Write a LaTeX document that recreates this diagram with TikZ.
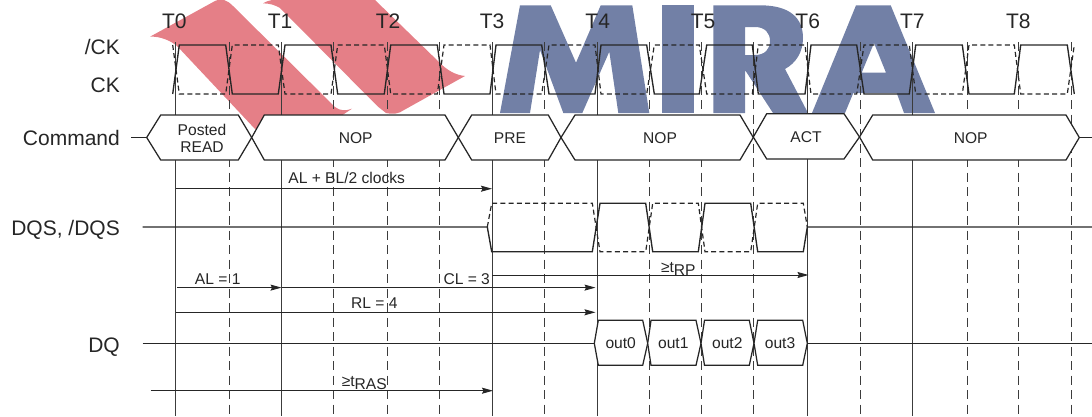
\documentclass[tikz,border=0pt]{standalone}
\usepackage{fontspec}
\setmainfont{Liberation Sans}
\usetikzlibrary{arrows.meta}
\definecolor{logored}{HTML}{E57F87}
\definecolor{logoblue}{HTML}{7280A6}
\definecolor{ink}{HTML}{262626}
\definecolor{gridink}{HTML}{3C3C3C}
\tikzset{
  sig/.style={draw=ink,line width=1.35pt,line join=miter},
  sigdash/.style={draw=ink,line width=1.2pt,dash pattern=on 5pt off 3.2pt},
  hexbox/.style={draw=ink,line width=1.25pt,fill=white},
  solidgrid/.style={draw=gridink,line width=1pt},
  dashgrid/.style={draw=gridink,line width=1pt,dash pattern=on 9pt off 5.5pt},
  span/.style={draw=ink,line width=0.95pt,-{Stealth[length=11pt,width=6pt,inset=1.5pt]}},
  biglab/.style={font=\fontsize{21}{21}\selectfont,text=ink,inner sep=0pt,text height=15pt,text depth=0pt},
  lab/.style={font=\fontsize{15.6}{18}\selectfont,text=ink,inner sep=0pt,text height=11.2pt,text depth=0pt},
  stacklab/.style={font=\fontsize{15.6}{17}\selectfont,text=ink,inner sep=0pt,align=center},
}
\newcommand{\lowered}[1]{\raisebox{-3pt}{#1}}
\begin{document}
\begin{tikzpicture}[x=1pt,y=-1pt]
\useasboundingbox (0,0) rectangle (1092,416);
% logo
\fill[logored] (150,36.7) -- (215,1) .. controls (222,-2) and (227,0) .. (233,6) -- (335,107) .. controls (340,111) and (346,111) .. (352,108.7) -- (338,118) -- (255,129) -- (178,47) .. controls (172,41) and (160,36) .. (150,36.7) -- cycle;
\fill[logored] (263,3.3) .. controls (266,1.5) and (270,0) .. (274,0) -- (375,0) -- (440,63) .. controls (447,70) and (455,75) .. (465,76) -- (404,110) .. controls (399,114) and (392,114.5) .. (386,113) -- (378,106.7) -- (280,8) .. controls (275,5) and (270,3.5) .. (263,3.3) -- cycle;
\fill[logoblue] (500,113) -- (520,5.3) -- (550.7,5.3) -- (576,62.7) -- (600.7,5.3) -- (632.3,5.3) -- (649.3,113) -- (618.3,113) -- (609.3,51.7) -- (582.3,113) -- (563.3,113) -- (540,50) -- (530,113) -- cycle;
\fill[logoblue] (662,5.3) rectangle (694,113);
\fill[logoblue,even odd rule] (713.3,113) -- (713.3,5.3) -- (760,5.3) .. controls (790,5.3) and (803,18) .. (803,38) .. controls (803,52) and (796,63) .. (785,69) -- (808,113) -- (773,113) -- (745,70) -- (745,113) -- cycle
  (745,27) -- (755,27) .. controls (765,27) and (770,33) .. (770,41) .. controls (770,49) and (765,55) .. (755,55) -- (745,55) -- cycle;
\fill[logoblue,even odd rule] (812,113) -- (856,5.3) -- (890.7,5.3) -- (935,113) -- (904,113) -- (896.7,93) -- (853.3,93) -- (845,113) -- cycle
  (874,43) -- (861.7,72.7) -- (886,72.7) -- cycle;
% grid
\foreach \x in {175.5,281.5,492,597,807.7,912.3} \draw[solidgrid] (\x,42) -- (\x,416);
\foreach \x in {229,333.7,387.7,439.7,544.3,649.3,701.5,753.3,860,967,1018.7,1071} \draw[dashgrid] (\x,42) -- (\x,416);
% clock
\draw[sig] (172.7,94) -- (179.3,45) -- (225.7,45) -- (232.3,94) -- (278.3,94) -- (285,45) -- (331,45) -- (337.7,94) -- (384.3,94) -- (390.7,45) -- (437.3,45) -- (444,94) -- (490,94) -- (496,45) -- (541.7,45) -- (549,94) -- (595,94) -- (601,45) -- (646.7,45) -- (654.3,94) -- (699.3,94) -- (706.7,45) -- (752.3,45) -- (758.3,94) -- (805,94) -- (811,45) -- (856.7,45) -- (864,94) -- (909.3,94) -- (915.7,45) -- (962.3,45) -- (969,94) -- (1014.3,94) -- (1020.7,45) -- (1067.3,45) -- (1074.3,94);
\draw[sigdash] (172.7,45) -- (179.3,94) -- (225.7,94) -- (232.3,45) -- (278.3,45) -- (285,94) -- (331,94) -- (337.7,45) -- (384.3,45) -- (390.7,94) -- (437.3,94) -- (444,45) -- (490,45) -- (496,94) -- (541.7,94) -- (549,45) -- (595,45) -- (601,94) -- (646.7,94) -- (654.3,45) -- (699.3,45) -- (706.7,94) -- (752.3,94) -- (758.3,45) -- (805,45) -- (811,94) -- (856.7,94) -- (864,45) -- (909.3,45) -- (915.7,94) -- (962.3,94) -- (969,45) -- (1014.3,45) -- (1020.7,94) -- (1067.3,94) -- (1074.3,45);
% T labels
\foreach \n/\x in {0/174.3,1/280,2/388,3/492,4/597.7,5/703,6/807.7,7/912.3,8/1018.3} \node[biglab] (t\n) at (\x,20.7) {T\n};
% left labels
\node[biglab,anchor=east] (lcka) at (120,46.7) {/CK};
\node[biglab,anchor=east] (lck) at (120,85) {CK};
\node[biglab,anchor=east] (lcmd) at (120,137.5) {Command};
\node[biglab,anchor=east] (ldqs) at (120,228) {DQS, /DQS};
\node[biglab,anchor=east] (ldq) at (120,344.5) {DQ};
% command bus
\draw[sig] (131,137.5) -- (146.7,137.5);
\draw[sig] (1079.3,137.5) -- (1092,137.5);
\draw[hexbox] (146.7,137.5) -- (160.7,115) -- (238.3,115) -- (251.7,137.5) -- (238.3,160) -- (160.7,160) -- cycle;
\draw[hexbox] (251.7,137.5) -- (264.3,115) -- (445,115) -- (458.3,137.5) -- (445,160) -- (264.3,160) -- cycle;
\draw[hexbox] (458.3,137.5) -- (471.7,115) -- (548.3,115) -- (561,137.5) -- (548.3,160) -- (471.7,160) -- cycle;
\draw[hexbox] (561,137.5) -- (575,115) -- (740,115) -- (753.3,137.5) -- (740,160) -- (575,160) -- cycle;
\draw[hexbox] (753.3,137) -- (766.7,113.7) -- (844,113.7) -- (859.5,137) -- (844,159) -- (766.7,159) -- cycle;
\draw[hexbox] (859.5,137) -- (872.7,115) -- (1066,115) -- (1079.3,137.5) -- (1066,160) -- (872.7,160) -- cycle;
\node[stacklab] (cmdread) at (202,138.5) {Posted\\READ};
\node[lab] (cmdnop1) at (355.7,138) {NOP};
\node[lab] (cmdpre) at (510,138) {PRE};
\node[lab] (cmdnop2) at (660,138) {NOP};
\node[lab] (cmdact) at (806,137) {ACT};
\node[lab] (cmdnop3) at (970.7,138) {NOP};
% DQS
\draw[sig] (142.7,227) -- (487.3,227) -- (491.7,251.7) -- (592.3,251.7) -- (600,203.3) -- (645.7,203.3) -- (652.7,251.7) -- (698.3,251.7) -- (705,203.3) -- (750.7,203.3) -- (757.7,251.7) -- (803.3,251.7) -- (807.3,227) -- (1092,227);
\draw[sigdash] (487.3,227) -- (491.7,203.3) -- (592.3,203.3) -- (600,251.7) -- (645.7,251.7) -- (652.7,203.3) -- (698.3,203.3) -- (705,251.7) -- (750.7,251.7) -- (757.7,203.3) -- (803.3,203.3) -- (807.3,227);
% DQ
\draw[sig] (142.7,343.3) -- (594.3,343.3);
\draw[sig] (807.3,343.3) -- (1092,343.3);
\draw[hexbox] (594.3,343.3) -- (598.3,320.3) -- (642.7,320.3) -- (647.7,343.3) -- (642.7,365.3) -- (598.3,365.3) -- cycle;
\draw[hexbox] (647.7,343.3) -- (651,320.3) -- (696,320.3) -- (701,343.3) -- (696,365.3) -- (651,365.3) -- cycle;
\draw[hexbox] (701,343.3) -- (704.5,320.3) -- (749.3,320.3) -- (754,343.3) -- (749.3,365.3) -- (704.5,365.3) -- cycle;
\draw[hexbox] (754,343.3) -- (757.7,320.3) -- (802.7,320.3) -- (807.3,343.3) -- (802.7,365.3) -- (757.7,365.3) -- cycle;
\node[lab] (q0) at (620.7,343.3) {out0};
\node[lab] (q1) at (673.3,343.3) {out1};
\node[lab] (q2) at (727.3,343.3) {out2};
\node[lab] (q3) at (780,343.3) {out3};
% spans
\coordinate (ab0) at (175.5,188.7); \coordinate (ab1) at (492,188.7);
\coordinate (al0) at (177,287.6); \coordinate (al1) at (281.5,287.6); \coordinate (cl1) at (595.5,287.6);
\coordinate (rl0) at (175.5,312.3); \coordinate (rl1) at (595.5,312.3);
\coordinate (rp0) at (492,275); \coordinate (rp1) at (808.5,275);
\coordinate (ra0) at (150.7,390.7); \coordinate (ra1) at (493,390.7);
\draw[span] (ab0) -- (ab1);
\draw[span] (al0) -- (al1);
\draw[span] (al1) -- (cl1);
\draw[span] (rl0) -- (rl1);
\draw[span] (rp0) -- (rp1);
\draw[span] (ra0) -- (ra1);
\node[lab] (tab) at (346.7,178) {AL + BL/2 clocks};
\node[lab] (tal) at (217.7,278.7) {AL = 1};
\node[lab] (tcl) at (466.7,278.7) {CL = 3};
\node[lab] (trl) at (374.3,303) {RL = 4};
\node[lab] (trp) at (678.3,266.5) {≥t\lowered{RP}};
\node[lab] (tra) at (364.3,380.5) {≥t\lowered{RAS}};
\end{tikzpicture}
\end{document}
